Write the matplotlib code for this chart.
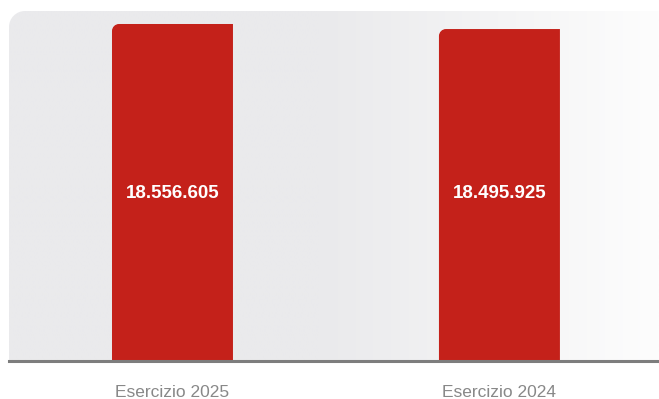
import numpy as np
import matplotlib
matplotlib.use("Agg")
import matplotlib.pyplot as plt
from matplotlib.path import Path
from matplotlib.patches import PathPatch
from matplotlib.transforms import IdentityTransform

categories = ["Esercizio 2025", "Esercizio 2024"]
values = [18556605, 18495925]
value_labels = ["18.556.605", "18.495.925"]

W, H = 659, 399
fig = plt.figure(figsize=(W / 100, H / 100), dpi=100)
fig.patch.set_facecolor("white")

ax_left, ax_right, ax_top, ax_bottom = 9, 659, 11, 361
ax = fig.add_axes([ax_left / W, (H - ax_bottom) / H, (ax_right - ax_left) / W, (ax_bottom - ax_top) / H])
ax.patch.set_visible(False)

YMIN, YMAX = 14.5e6, 18.713e6
x = np.arange(len(categories))
bars = ax.bar(x, values, width=0.37, color="#C4211A", zorder=3)
ax.set_xlim(-0.5, 1.488)
ax.set_ylim(YMIN, YMAX)

for s in ["top", "right", "left"]:
    ax.spines[s].set_visible(False)
ax.spines["bottom"].set_color("#7d7d7d")
ax.spines["bottom"].set_linewidth(2.2)
ax.spines["bottom"].set_zorder(5)
ax.set_yticks([])
ax.set_xticks(x)
ax.set_xticklabels(categories, family=["Liberation Sans", "DejaVu Sans"],
                   fontsize=12.5, color="#888888")
ax.tick_params(axis="x", length=0, pad=17)

fig.canvas.draw()

def rounded_tl_path(x0, y0, x1, y1, r):
    k = 0.5523
    verts = [(x0, y0), (x1, y0), (x1, y1), (x0 + r, y1),
             (x0 + r - k * r, y1), (x0, y1 - r + k * r), (x0, y1 - r),
             (x0, y0)]
    codes = [Path.MOVETO, Path.LINETO, Path.LINETO, Path.LINETO,
             Path.CURVE4, Path.CURVE4, Path.CURVE4, Path.CLOSEPOLY]
    return Path(verts, codes)

# background panel with gradient and rounded top-left corner
bb = ax.get_window_extent()
grad_w = 400
cols = np.ones((1, grad_w, 3))
xs = np.linspace(bb.x0, bb.x1, grad_w)
left_c = np.array([234, 234, 236]) / 255
right_c = np.array([253, 253, 253]) / 255
t = np.clip((xs - 320) / (bb.x1 - 320), 0, 1)
for i in range(grad_w):
    cols[0, i] = left_c * (1 - t[i]) + right_c * t[i]
panel_path = rounded_tl_path(bb.x0, bb.y0, bb.x1 + 2, bb.y1, 16)
panel_patch = PathPatch(panel_path, transform=IdentityTransform(), facecolor="none", edgecolor="none")
fig.add_artist(panel_patch)
im = ax.imshow(cols, extent=(-0.5, 1.488, YMIN, YMAX), aspect="auto", zorder=0,
               interpolation="bilinear")
im.set_clip_path(panel_patch)

# rounded bars with value labels
label_y = YMAX - (YMAX - YMIN) * (194 - 11) / 350
for rect, lab in zip(bars, value_labels):
    x0, y0 = ax.transData.transform((rect.get_x(), rect.get_y()))
    x1, y1 = ax.transData.transform((rect.get_x() + rect.get_width(), rect.get_height()))
    rect.set_visible(False)
    p = PathPatch(rounded_tl_path(x0, y0, x1, y1, 7), transform=IdentityTransform(),
                  facecolor="#C4211A", edgecolor="none", zorder=3)
    ax.add_artist(p)
    ax.text(rect.get_x() + rect.get_width() / 2, label_y,
            lab, ha="center", va="center", color="white", fontsize=13.5, fontweight="bold",
            family=["Liberation Sans", "DejaVu Sans"], zorder=4)

fig.savefig("out.png", dpi=100, facecolor="white")
